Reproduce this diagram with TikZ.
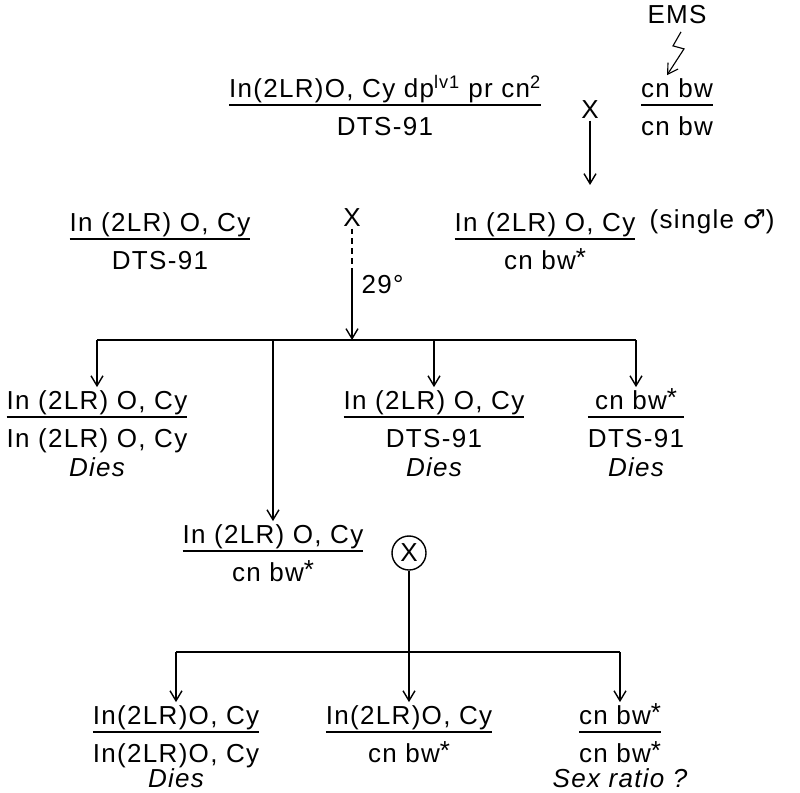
\documentclass[tikz,border=0pt]{standalone}
\usepackage{fontspec}
\setmainfont{Liberation Sans}[LetterSpace=5]
\newfontfamily\symfont{DejaVu Sans}
\usetikzlibrary{positioning,arrows.meta,calc}
\setlength{\arrayrulewidth}{1.6pt}
\newcommand{\geno}[2]{\begin{tabular}{@{}c@{}}#1\\[-2pt]\hline\rule{0pt}{21pt}#2\end{tabular}}
\newcommand{\st}{\raisebox{2pt}{*}}
\tikzset{
  node distance=1mm,
  gen/.style={inner sep=0pt, font=\fontsize{18.5}{22}\selectfont},
  txt/.style={inner sep=1pt, font=\fontsize{18.5}{22}\selectfont},
  fate/.style={inner sep=0pt, font=\fontsize{18.5}{22}\selectfont\itshape},
  ln/.style={line width=1pt},
  arr/.style={-{Straight Barb[length=2.5mm,width=3mm]}, line width=1pt},
  selfx/.style={draw, circle, line width=1pt, inner sep=0pt, minimum size=8.5mm, font=\fontsize{18.5}{22}\selectfont},
}

\begin{document}
\begin{tikzpicture}[x=0.025cm, y=-0.025cm]
  \useasboundingbox (0,0) rectangle (800,793);
  % parents
  \node[txt] (ems) at (677,15) {EMS};
  \node[gen] (pa) at (385,110) {\geno{In(2LR)O, Cy dp\textsuperscript{lv1} pr cn\textsuperscript{2}}{DTS-91}};
  \node[gen] (pb) at (677,110) {\geno{cn bw}{cn bw}};
  \node[txt] (xa) at (590,110) {X};
  \draw[arr, line width=0.8pt] ($(ems.south)+(4,6)$) -- ++(-8,14) -- ++(11,3) -- ($(pb.north)+(-10,0)$);
  \draw[arr, shorten >=7mm] (xa.south) -- (xa.south |- 0,213);
  % second cross
  \node[gen] (pd) at (160,244) {\geno{In (2LR) O, Cy}{DTS-91}};
  \node[txt] (xb) at (352,218) {X};
  \node[gen] (pc) at (545,244) {\geno{In (2LR) O, Cy}{cn bw\st}};
  \node[txt, anchor=west] (sg) at (648,222) {(single {\symfont ♂})};
  \coordinate (fm) at (352,270);
  \coordinate (fa) at (352,340);
  \draw[ln, dash pattern=on 4pt off 3pt] (xb.south) -- (fm);
  \draw[arr] (fm) -- (fa);
  \node[txt, anchor=west] (deg) at (360,285) {29°};
  % progeny of second cross
  \node[gen] (r1) at (97,422) {\geno{In (2LR) O, Cy}{In (2LR) O, Cy}};
  \node[gen] (r2) at (434,422) {\geno{In (2LR) O, Cy}{DTS-91}};
  \node[gen] (r3) at (636,422) {\geno{cn bw\st}{DTS-91}};
  \node[fate, below=0mm of r1] (d1) {Dies};
  \node[fate, below=0mm of r2] (d2) {Dies};
  \node[fate, below=0mm of r3] (d3) {Dies};
  \node[gen] (pe) at (273,556) {\geno{In (2LR) O, Cy}{cn bw\st}};
  \node[selfx] (cx) at (409,553) {X};
  \draw[ln] (r1.north |- fa) -- (r3.north |- fa);
  \draw[arr] (r1.north |- fa) -- (r1.north);
  \draw[arr] (r2.north |- fa) -- (r2.north);
  \draw[arr] (r3.north |- fa) -- (r3.north);
  \draw[arr] (pe.north |- fa) -- (pe.north);
  % selfing
  \coordinate (fb) at (409,652);
  \node[gen] (s1) at (176,737) {\geno{In(2LR)O, Cy}{In(2LR)O, Cy}};
  \node[gen] (s2) at (409,737) {\geno{In(2LR)O, Cy}{cn bw\st}};
  \node[gen] (s3) at (620,737) {\geno{cn bw\st}{cn bw\st}};
  \node[fate, below=-1mm of s1] (d4) {Dies};
  \node[fate, below=-1mm of s3] (d5) {Sex ratio ?};
  \draw[ln] (s1.north |- fb) -- (s3.north |- fb);
  \draw[arr] (cx.south) -- (s2.north);
  \draw[arr] (s1.north |- fb) -- (s1.north);
  \draw[arr] (s3.north |- fb) -- (s3.north);
\end{tikzpicture}
\end{document}
